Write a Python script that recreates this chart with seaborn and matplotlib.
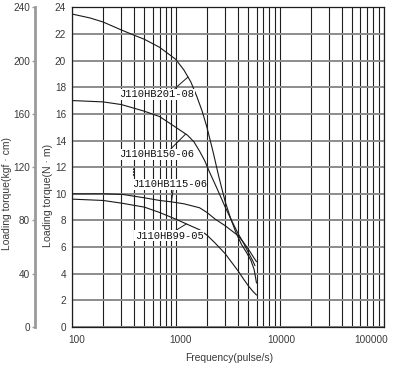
import numpy as np
import pandas as pd
import matplotlib
matplotlib.use("Agg")
import matplotlib.pyplot as plt
from matplotlib.ticker import LogLocator, FixedLocator, NullFormatter
from matplotlib.transforms import ScaledTranslation
import seaborn as sns

# ---------------- data ----------------
models = ["J110HB201-08", "J110HB150-06", "J110HB115-06", "J110HB99-05"]

freq_201 = [100, 150, 200, 300, 400, 500, 700, 1000, 1200, 1400, 1600, 1800,
            2000, 2300, 2600, 3000, 3400, 3800, 4300, 4800, 5300, 5700, 6000]
torque_201 = [23.5, 23.2, 22.9, 22.3, 21.9, 21.6, 21.0, 20.1, 19.3, 18.4, 17.3,
              16.2, 15.0, 13.1, 11.3, 9.4, 8.1, 7.1, 6.2, 5.6, 5.0, 4.3, 3.3]

freq_150 = [100, 200, 300, 500, 700, 1000, 1300, 1500, 1700, 1900, 2100, 2500,
            3000, 3500, 4000, 4500, 5000, 5500, 5800]
torque_150 = [17.0, 16.9, 16.7, 16.2, 15.8, 15.0, 14.4, 13.9, 13.2, 12.5, 11.7,
              10.4, 9.0, 7.9, 7.0, 6.3, 5.6, 5.0, 4.6]

freq_115 = [100, 200, 310, 500, 700, 900, 1200, 1700, 2000, 2400, 3000, 3500,
            4000, 4500, 5000, 5500, 6000]
torque_115 = [10.0, 10.0, 9.95, 9.7, 9.5, 9.4, 9.25, 8.95, 8.6, 8.1, 7.6, 7.2,
              6.85, 6.35, 5.85, 5.35, 4.9]

freq_99 = [100, 200, 300, 500, 700, 1000, 1300, 1700, 2000, 2400, 3000, 3500,
           4000, 4500, 5000, 5500, 6000]
torque_99 = [9.6, 9.5, 9.3, 9.0, 8.6, 8.1, 7.7, 7.3, 6.9, 6.3, 5.5, 4.8, 4.2,
             3.6, 3.1, 2.7, 2.4]

y_ticks = list(range(0, 25, 2))
y2_ticks = list(range(0, 241, 40))
x_ticks = [100, 1000, 10000, 100000]
x_ticklabels = ["100", "1000", "10000", "100000"]

# label anchor (frequency, torque) and leader target frequency per model
label_pos = {"J110HB201-08": (661, 17.48), "J110HB150-06": (661, 12.97),
             "J110HB115-06": (872, 10.72), "J110HB99-05": (863, 6.85)}
leader_f = {"J110HB201-08": 1315, "J110HB150-06": 1250,
            "J110HB115-06": 912, "J110HB99-05": 1268}
leader_rel = {"J110HB201-08": (0.73, 1.0), "J110HB150-06": (0.68, 1.0),
              "J110HB115-06": (0.55, 0.0), "J110HB99-05": (0.59, 1.0)}

series = {"J110HB201-08": (freq_201, torque_201),
          "J110HB150-06": (freq_150, torque_150),
          "J110HB115-06": (freq_115, torque_115),
          "J110HB99-05": (freq_99, torque_99)}

rows = []
for m in models:
    f, t = series[m]
    for a, b in zip(f, t):
        rows.append((m, a, b))
df = pd.DataFrame(rows, columns=["model", "freq", "torque"])

# ---------------- figure ----------------
sns.set_theme(style="white")
plt.rcParams["font.family"] = ["Liberation Sans", "DejaVu Sans"]

W, H = 396, 368
fig = plt.figure(figsize=(W / 100, H / 100), dpi=100)
left, right, top, bottom = 71.7, 383.5, 7.3, 327.0
ax = fig.add_axes([left / W, 1 - bottom / H, (right - left) / W, (bottom - top) / H])

sns.lineplot(data=df, x="freq", y="torque", units="model", estimator=None,
             sort=False, color="#1a1a1a", linewidth=0.8, ax=ax, legend=False,
             zorder=4)

ax.set_xscale("log")
ax.set_xlim(100, 100000)
ax.set_ylim(0, 24)
ax.xaxis.set_major_locator(FixedLocator(x_ticks))
ax.set_xticklabels(x_ticklabels)
ax.xaxis.set_minor_locator(LogLocator(base=10, subs=np.arange(2, 10)))
ax.xaxis.set_minor_formatter(NullFormatter())
ax.set_yticks(y_ticks)
ax.set_yticklabels([str(v) for v in y_ticks])

ax.grid(False)
ax.grid(which="both", axis="x", color="#1e1e1e", linewidth=0.8, zorder=1)
ax.grid(which="major", axis="y", color="#8c8c8c", linewidth=1.4, zorder=1)
ax.set_axisbelow(True)
for s in ax.spines.values():
    s.set_color("#1e1e1e")
    s.set_linewidth(0.9)

ax.tick_params(axis="both", which="both", length=0, labelsize=7.2,
               labelcolor="#3a3a3a")
ax.tick_params(axis="x", pad=6)
ax.tick_params(axis="y", pad=4)
ax.set_xlabel("")
ax.set_ylabel("")

# nudge x tick labels as in the reference
x_offsets_px = [5.0, 5.0, 1.7, -12.5]
for lab, dx in zip(ax.get_xticklabels(), x_offsets_px):
    lab.set_transform(lab.get_transform() +
                      ScaledTranslation(dx / 100, 0, fig.dpi_scale_trans))

# outer kgf·cm axis
sec = ax.secondary_yaxis((35 - left) / (right - left),
                         functions=(lambda v: v * 10, lambda v: v / 10))
sec.set_yticks(y2_ticks)
sec.set_yticklabels([str(v) for v in y2_ticks])
sec.spines["left"].set_color("#9a9a9a")
sec.spines["left"].set_linewidth(2.0)
sec.tick_params(axis="y", direction="out", length=2.5, width=1.0,
                color="#9a9a9a", labelsize=7.2, labelcolor="#3a3a3a", pad=1)

# labels with leaders
for m in models:
    f, t = series[m]
    lf = leader_f[m]
    lt = float(np.interp(np.log10(lf), np.log10(f), t))
    ax.annotate(m, xy=(lf, lt), xytext=label_pos[m], textcoords="data",
                ha="center", va="center", fontsize=7.6,
                family=["Liberation Mono", "DejaVu Sans Mono"], color="#111111",
                bbox=dict(boxstyle="square,pad=0.05", fc="white", ec="none"),
                arrowprops=dict(arrowstyle="-", color="#1a1a1a", lw=0.7,
                                shrinkA=0, shrinkB=0, relpos=leader_rel[m]),
                zorder=5)

# small dotted tick between two labels (as in the reference)
ax.plot([387, 387], [11.9, 11.3], color="#222222", lw=0.8, ls=(0, (1.5, 1)),
        zorder=5)

fig.text(47.7 / W, 1 - 195 / H, "Loading torque(N · m)", rotation=90,
         ha="center", va="center", fontsize=7.6, color="#3a3a3a")
fig.text(7.5 / W, 1 - 193 / H, "Loading torque(kgf · cm)", rotation=90,
         ha="center", va="center", fontsize=7.5, color="#3a3a3a")
fig.text(229 / W, 1 - 358 / H, "Frequency(pulse/s)", ha="center",
         va="center", fontsize=7.4, color="#3a3a3a")

fig.savefig("out.png", dpi=100, facecolor="white")
